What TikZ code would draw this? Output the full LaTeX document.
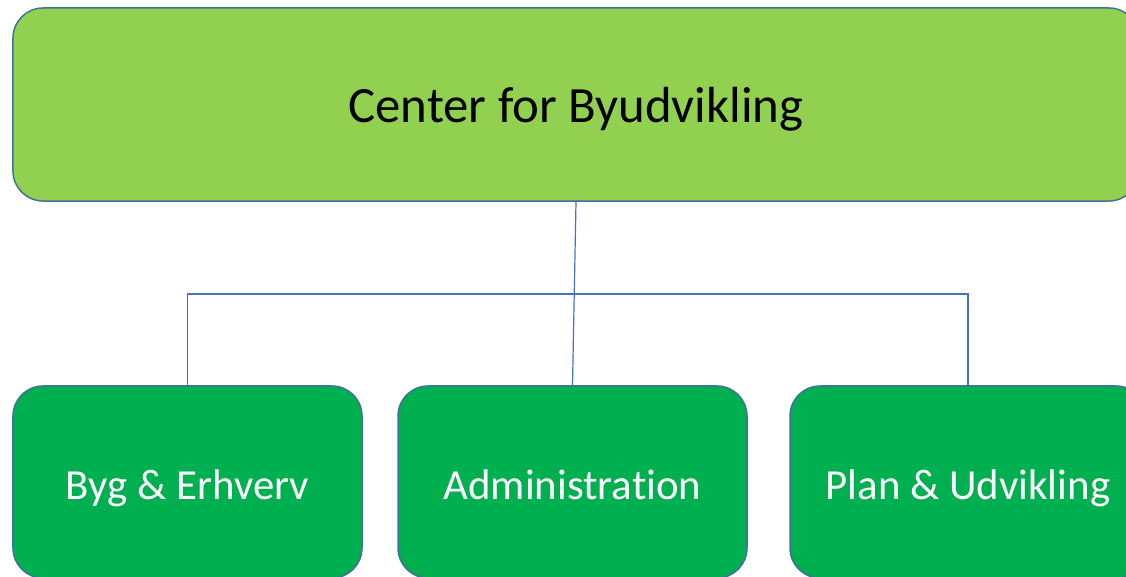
\documentclass[tikz,border=0pt]{standalone}
\usepackage{fontspec}
\setmainfont{Carlito}[Ligatures=NoCommon]
\definecolor{topfill}{HTML}{92D050}
\definecolor{botfill}{HTML}{00B050}
\definecolor{boxline}{HTML}{41719C}
\definecolor{connline}{HTML}{4472C4}
\newcommand{\toptext}[1]{\raisebox{-18.5bp}[0pt][0pt]{#1}}
\newcommand{\unittext}[1]{\raisebox{-17bp}[0pt][0pt]{#1}}
\begin{document}
\begin{tikzpicture}[x=1bp,y=-1bp,
  box/.style={draw=boxline,line width=1.5bp,rounded corners=30bp,rectangle,inner sep=0pt},
  topbox/.style={box,fill=topfill,minimum width=1126bp,minimum height=193bp,font=\fontsize{51}{60}\selectfont,text=black},
  unitbox/.style={box,fill=botfill,minimum width=349bp,minimum height=192bp,font=\fontsize{43}{52}\selectfont,text=white},
  conn/.style={draw=connline,line width=1.2bp}]
\useasboundingbox (0,0) rectangle (1126,577);
\clip (0,0) rectangle (1126,577);
\node[topbox] (top) at (576,104.5) {\toptext{Center for Byudvikling}};
\node[unitbox] (byg) at (187.5,482) {\unittext{Byg \& Erhverv}};
\node[unitbox] (adm) at (572.5,482) {\unittext{Administration}};
\node[unitbox,minimum width=356bp] (plan) at (968,482) {\unittext{Plan \& Udvikling}};
\coordinate (j) at (576,294);
\draw[conn] (top.south) -- (adm.north);
\draw[conn] (byg.north) -- (byg.north |- j) -- (plan.north |- j) -- (plan.north);
\end{tikzpicture}
\end{document}
